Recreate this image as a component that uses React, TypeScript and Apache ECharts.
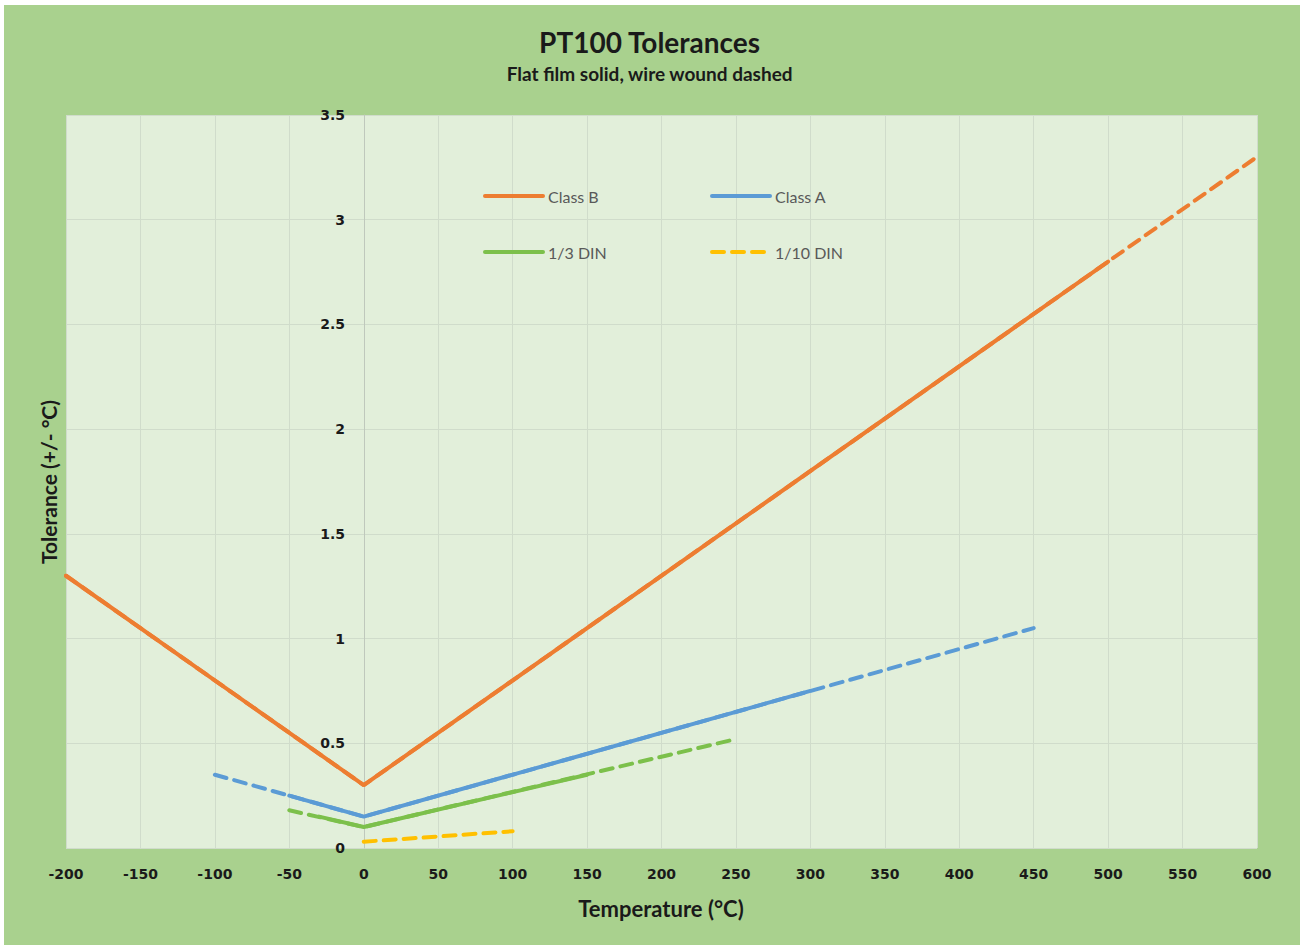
import React, { useEffect, useRef } from "react";
import * as echarts from "echarts";

// Breakpoints of each tolerance line (temperature °C, tolerance ±°C)
const classBWireT = [-200, 0, 600];
const classBWireV = [1.3, 0.3, 3.3];
const classBFilmT = [-200, 0, 500];
const classBFilmV = [1.3, 0.3, 2.8];

const classAWireT = [-100, 0, 450];
const classAWireV = [0.35, 0.15, 1.05];
const classAFilmT = [-50, 0, 300];
const classAFilmV = [0.25, 0.15, 0.75];

const din3WireT = [-50, 0, 250];
const din3WireV = [0.18, 0.1, 0.52];
const din3FilmT = [-30, 0, 150];
const din3FilmV = [0.15, 0.1, 0.35];

const din10WireT = [0, 100];
const din10WireV = [0.03, 0.08];

const zip = (t: number[], v: number[]) => t.map((x, i) => [x, v[i]]);

const ORANGE = "#ED7D31";
const BLUE = "#5B9BD5";
const GREEN = "#7CC04B";
const YELLOW = "#FFC000";
const DASH = [12, 8];

export default function App() {
  const ref = useRef<HTMLDivElement>(null);
  useEffect(() => {
    if (!ref.current) return;
    const chart = echarts.init(ref.current, undefined, { renderer: "svg" });
    const line = (name: string, data: number[][], color: string, dashed: boolean, z: number) => ({
      name,
      type: "line",
      data,
      symbol: "none",
      z,
      lineStyle: { color, width: 4, type: dashed ? DASH : "solid", cap: "round" },
      itemStyle: { color },
    });
    const legendText = { color: "#595959", fontSize: 16, fontFamily: "Lato" };
    const legendBase = {
      orient: "horizontal",
      itemWidth: 58,
      itemHeight: 14,
      textStyle: legendText,
      itemStyle: { opacity: 0 },
      lineStyle: { width: 4 },
    };
    chart.setOption({
      animation: false,
      backgroundColor: "#ffffff",
      graphic: [
        { type: "rect", shape: { x: 4, y: 5, width: 1296, height: 940 }, style: { fill: "#A9D18E" }, z: -10 },
        {
          type: "text", left: "center", top: 28,
          style: { text: "PT100 Tolerances", font: "bold 28px Lato", fill: "#1a1a1a" },
        },
        {
          type: "text", left: "center", top: 64,
          style: { text: "Flat film solid, wire wound dashed", font: "bold 19px Lato", fill: "#1a1a1a" },
        },
        {
          type: "text", x: 661, y: 908,
          style: { text: "Temperature (°C)", font: "bold 22px Lato", fill: "#1a1a1a", align: "center", verticalAlign: "middle" },
        },
        {
          type: "text", x: 48, y: 482, rotation: Math.PI / 2,
          style: { text: "Tolerance (+/- °C)", font: "bold 21px Lato", fill: "#1a1a1a", align: "center", verticalAlign: "middle" },
        },
      ],
      grid: {
        left: 66, right: 43, top: 115, bottom: 97,
        show: true, backgroundColor: "#E2EFDA", borderWidth: 0,
      },
      legend: [
        { ...legendBase, data: ["Class B"], left: 478, top: 183 },
        { ...legendBase, data: ["Class A"], left: 705, top: 183 },
        { ...legendBase, data: ["1/3 DIN"], left: 478, top: 239 },
        { ...legendBase, data: ["1/10 DIN"], left: 705, top: 239 },
      ],
      xAxis: {
        type: "value", min: -200, max: 600, interval: 50,
        axisLine: { show: false },
        axisTick: { show: false },
        splitLine: { show: true, lineStyle: { color: "#D0DCCB", width: 1 } },
        axisLabel: { color: "#1a1a1a", fontWeight: "bold", fontSize: 14, fontFamily: "DejaVu Sans", margin: 19 },
      },
      yAxis: {
        type: "value", min: 0, max: 3.5, interval: 0.5,
        axisLine: { show: true, onZero: true, lineStyle: { color: "#BFC8BC", width: 1 } },
        axisTick: { show: false },
        splitLine: { show: true, lineStyle: { color: "#D0DCCB", width: 1 } },
        axisLabel: { color: "#1a1a1a", fontWeight: "bold", fontSize: 14, fontFamily: "DejaVu Sans", margin: -279 },
      },
      series: [
        line("Class B wire wound", zip(classBWireT, classBWireV), ORANGE, true, 2),
        line("Class A wire wound", zip(classAWireT, classAWireV), BLUE, true, 2),
        line("1/3 DIN wire wound", zip(din3WireT, din3WireV), GREEN, true, 2),
        line("1/10 DIN", zip(din10WireT, din10WireV), YELLOW, true, 2),
        line("Class B", zip(classBFilmT, classBFilmV), ORANGE, false, 3),
        line("Class A", zip(classAFilmT, classAFilmV), BLUE, false, 3),
        line("1/3 DIN", zip(din3FilmT, din3FilmV), GREEN, false, 3),
      ],
    });
    return () => chart.dispose();
  }, []);
  return (
    <div
      ref={ref}
      style={{ position: "absolute", left: 0, top: 0, width: 1300, height: 945 }}
    />
  );
}
